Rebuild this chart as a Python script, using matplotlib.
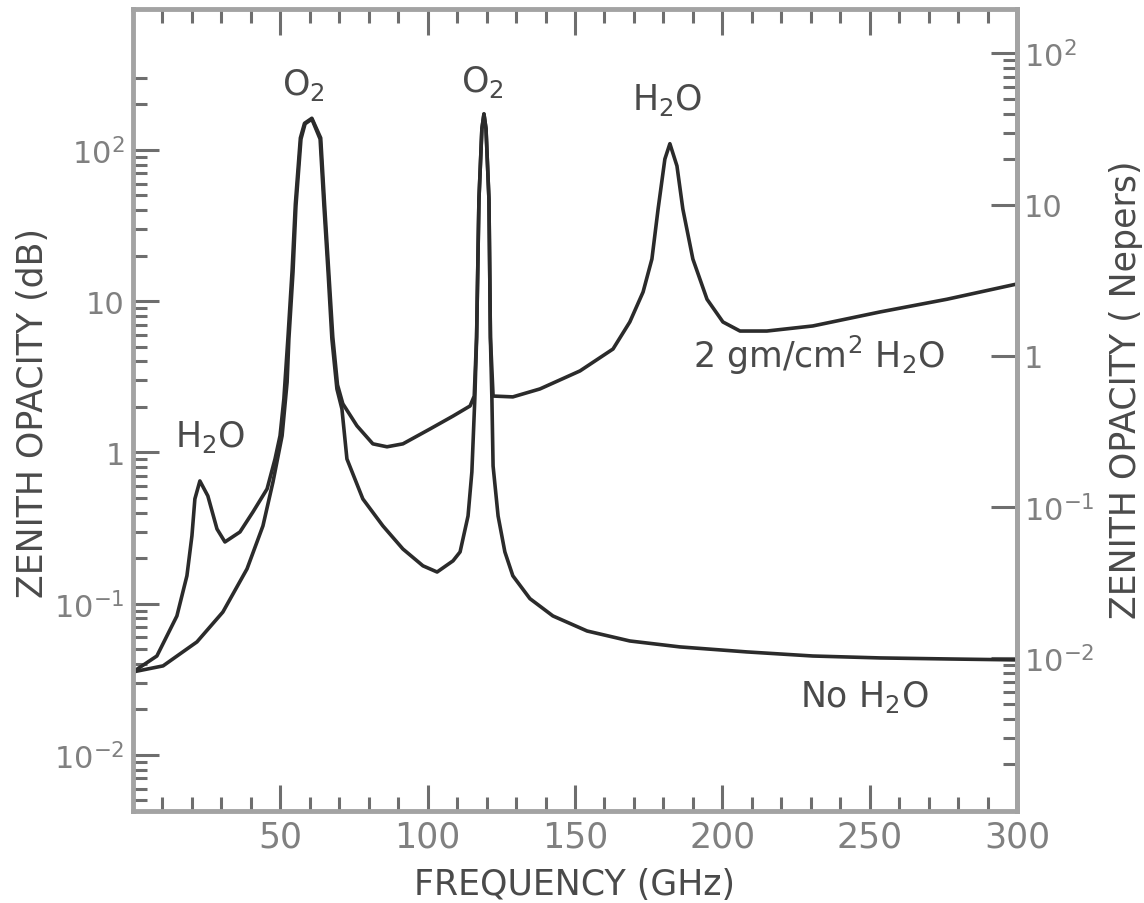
import matplotlib
matplotlib.use("Agg")
import matplotlib.pyplot as plt
from matplotlib.ticker import FixedLocator, FixedFormatter, NullFormatter

#__________________________________________________________________
# Datos (frecuencia en GHz, opacidad cenital en dB)

freq_dry = [0, 10.2, 21.7, 30.5, 38.7, 44.1, 47.5, 50.6, 52.3, 52.9,
            54.3, 55.3, 57.0, 58.4, 60.7, 63.5, 64.8, 66.2, 67.5, 69.2,
            70.9, 72.6, 78.0, 84.8, 91.6, 98.4, 103.2, 108.6, 111.0, 113.7,
            115.0, 116.0, 116.6, 117.4, 118.4, 119.1, 119.8, 120.8, 121.3, 121.8,
            122.2, 123.9, 126.2, 128.9, 134.7, 142.5, 154.1, 168.6, 185.6, 208.3,
            230.7, 253.5, 277.2, 300]
opacity_dry = [0.0354, 0.0388, 0.0559, 0.0881, 0.170, 0.327, 0.638, 1.29, 2.92, 5.63,
               15.6, 42.7, 118, 149, 160, 118, 42.7, 15.6, 5.63, 2.63,
               1.94, 0.906, 0.493, 0.327, 0.230, 0.178, 0.162, 0.192, 0.220, 0.380,
               0.743, 2.26, 5.6, 47, 138, 173, 138, 47, 5.6, 2.26,
               0.814, 0.380, 0.220, 0.153, 0.108, 0.0830, 0.0660, 0.0567, 0.0518, 0.0480,
               0.0451, 0.0438, 0.0431, 0.0425]

freq_wet = [0, 8.1, 14.9, 18.3, 20.0, 21.0, 22.7, 25.4, 28.5, 31.2,
            36.3, 40.7, 45.5, 48.2, 49.9, 51.2, 52.6, 54.0, 55.1, 56.8,
            58.2, 60.7, 63.7, 65.0, 66.4, 67.8, 69.4, 71.2, 76.0, 81.4,
            86.2, 91.6, 100.8, 108.6, 114.4, 115.8, 116.6, 117.4, 118.4, 119.1,
            119.8, 120.8, 121.3, 122.2, 128.9, 138.1, 151.7, 162.9, 168.6, 173.1,
            176.1, 178.2, 180.5, 182.2, 184.6, 186.6, 190.0, 194.8, 200.2, 206.0,
            215.1, 230.7, 253.5, 276.2, 300]
opacity_wet = [0.0354, 0.0451, 0.0830, 0.153, 0.281, 0.493, 0.648, 0.516, 0.312, 0.256,
               0.298, 0.404, 0.574, 0.906, 1.29, 2.26, 5.8, 16, 44, 120,
               150, 162, 120, 44, 16, 5.8, 2.8, 2.1, 1.50, 1.14,
               1.09, 1.14, 1.43, 1.74, 2.03, 2.36, 5.8, 47, 138, 173,
               138, 47, 5.8, 2.36, 2.33, 2.63, 3.46, 4.83, 7.29, 11.5,
               19.0, 40.7, 87.1, 110, 78.4, 40.7, 19.0, 10.3, 7.29, 6.35,
               6.35, 6.86, 8.49, 10.3, 13.0]

x_ticks = [50, 100, 150, 200, 250, 300]
y_ticks = [1e-2, 1e-1, 1, 10, 100]
y_tick_labels = ['10$^{-2}$', '10$^{-1}$', '1', '10', '10$^{2}$']

DB_PER_NEPER = 4.343

#__________________________________________________________________
# Grafica

def main():
    plt.rcParams['font.family'] = ['DejaVu Sans']
    plt.rcParams['mathtext.default'] = 'regular'

    line_c = '#2b2b2b'
    spine_c = '#a3a3a3'
    tick_c = '#6e6e6e'
    label_c = '#808080'
    text_c = '#4a4a4a'
    fs = 25
    fs_y = 22

    fig = plt.figure(figsize=(11.44, 9.04), dpi=100)
    ax = fig.add_axes([133/1144, 1 - 812/904, (1017 - 133)/1144, (812 - 10)/904])

    ax.plot(freq_dry, opacity_dry, color=line_c, lw=2.6, solid_joinstyle='round')
    ax.plot(freq_wet, opacity_wet, color=line_c, lw=2.6, solid_joinstyle='round')

    ax.set_yscale('log')
    ax.set_xlim(0, 300)
    ax.set_ylim(0.00426, 855)

    for s in ax.spines.values():
        s.set_color(spine_c)
        s.set_linewidth(3.5)

    # eje x
    ax.xaxis.set_major_locator(FixedLocator(x_ticks))
    ax.xaxis.set_minor_locator(FixedLocator([v for v in range(10, 300, 10) if v % 50]))
    ax.set_xticklabels([str(v) for v in x_ticks])

    # eje y izquierdo (dB)
    minors = []
    for dec in [1e-3, 1e-2, 1e-1, 1, 10]:
        minors += [k * dec for k in range(2, 10)]
    minors += [200, 300]
    minors = [m for m in minors if m > 0.0043]
    ax.yaxis.set_major_locator(FixedLocator(y_ticks))
    ax.yaxis.set_major_formatter(FixedFormatter(y_tick_labels))
    ax.yaxis.set_minor_locator(FixedLocator(minors))
    ax.yaxis.set_minor_formatter(NullFormatter())

    ax.tick_params(which='both', direction='in', top=True, right=False,
                   color=tick_c, labelcolor=label_c, width=2.2)
    ax.tick_params(axis='x', labelsize=fs)
    ax.tick_params(axis='y', labelsize=fs_y)
    ax.tick_params(which='major', length=19, pad=6)
    ax.tick_params(which='minor', length=10)

    # eje y derecho (Nepers)
    sec = ax.secondary_yaxis('right', functions=(lambda v: v / DB_PER_NEPER,
                                                 lambda v: v * DB_PER_NEPER))
    sec.spines['right'].set_color(spine_c)
    sec.spines['right'].set_linewidth(3.5)
    sec.yaxis.set_major_locator(FixedLocator(y_ticks))
    sec.yaxis.set_major_formatter(FixedFormatter(y_tick_labels))
    sec_minors = [k * 10 for k in range(2, 10)] + [k * 1e-3 for k in range(2, 10)]
    sec.yaxis.set_minor_locator(FixedLocator(sec_minors))
    sec.yaxis.set_minor_formatter(NullFormatter())
    sec.tick_params(which='both', direction='in', color=tick_c, labelcolor=label_c,
                    labelsize=fs_y, width=2.2)
    sec.tick_params(which='major', length=19, pad=5)
    sec.tick_params(which='minor', length=10)

    # anotaciones
    ax.text(57.7, 273, 'O$_2$', fontsize=fs, color=text_c, ha='center', va='center')
    ax.text(118.4, 286, 'O$_2$', fontsize=fs, color=text_c, ha='center', va='center')
    ax.text(181.2, 217, 'H$_2$O', fontsize=fs, color=text_c, ha='center', va='center')
    ax.text(26.1, 1.29, 'H$_2$O', fontsize=fs, color=text_c, ha='center', va='center')
    ax.text(190, 4.48, '2 gm/cm$^2$ H$_2$O', fontsize=fs, color=text_c, ha='left', va='center')
    ax.text(226.3, 0.0245, 'No H$_2$O', fontsize=fs, color=text_c, ha='left', va='center')

    fig.text(33/1144, 1 - 413/904, 'ZENITH OPACITY (dB)', rotation=90, fontsize=fs,
             color=text_c, ha='center', va='center')
    fig.text(1126/1144, 1 - 390/904, 'ZENITH OPACITY ( Nepers)', rotation=90, fontsize=fs,
             color=text_c, ha='center', va='center')
    fig.text(575/1144, 1 - 885/904, 'FREQUENCY (GHz)', fontsize=fs,
             color=text_c, ha='center', va='center')

    fig.savefig('out.png', dpi=100, facecolor='white')


main()
